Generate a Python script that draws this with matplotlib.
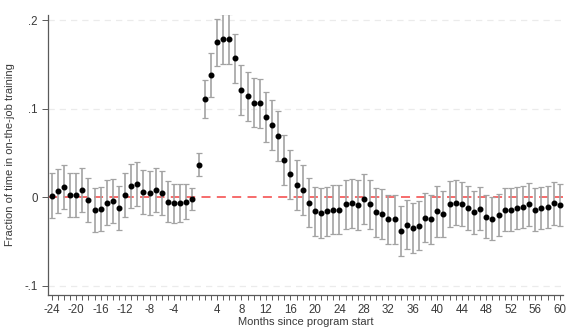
import matplotlib
matplotlib.use("Agg")
import matplotlib.pyplot as plt
import numpy as np

plt.rcParams['font.family'] = ['Liberation Sans', 'DejaVu Sans']

# months relative to program start (month 0 is not in the data)
months = list(range(-24, 0)) + list(range(1, 61))

# point estimates
est = [0.002, 0.007, 0.012, 0.003, 0.003, 0.008, -0.003, -0.014, -0.013, -0.006,
       -0.004, -0.012, 0.003, 0.013, 0.015, 0.006, 0.005, 0.008, 0.005, -0.005,
       -0.007, -0.006, -0.005, -0.002,
       0.037, 0.111, 0.138, 0.175, 0.179, 0.179, 0.157, 0.121, 0.114, 0.107,
       0.106, 0.091, 0.082, 0.069, 0.042, 0.026, 0.014, 0.008, -0.006, -0.016,
       -0.018, -0.016, -0.014, -0.014, -0.008, -0.007, -0.009, -0.002, -0.008, -0.017,
       -0.019, -0.025, -0.025, -0.038, -0.031, -0.035, -0.032, -0.023, -0.025, -0.016,
       -0.019, -0.008, -0.006, -0.008, -0.012, -0.017, -0.013, -0.022, -0.024, -0.020,
       -0.014, -0.014, -0.012, -0.011, -0.008, -0.014, -0.012, -0.011, -0.007, -0.009]

# half width of the 95% confidence interval
ci = [0.025] * 19 + [0.023, 0.022, 0.0215, 0.020, 0.012,
      0.013, 0.021, 0.025, 0.027] + [0.028] * 35 + \
     [0.029, 0.026, 0.026, 0.025, 0.025, 0.025, 0.0245, 0.0245, 0.0245, 0.024,
      0.024, 0.024, 0.024, 0.024, 0.024, 0.024, 0.024, 0.024, 0.024, 0.024, 0.024]

tick_months = [-24, -20, -16, -12, -8, -4, 4, 8, 12, 16, 20, 24, 28, 32, 36, 40,
               44, 48, 52, 56, 60]
y_ticks = [-0.1, 0, 0.1, 0.2]
y_ticklabels = ["-.1", "0", ".1", ".2"]

pos = np.arange(len(months))
axis_col = "#5a5a5a"
text_col = "#3a3a3a"

fig = plt.figure(figsize=(5.67, 3.34), dpi=100)
ax = fig.add_axes([0.0841, 0.118, 0.9097, 0.837])

for yv in [-0.1, 0.1, 0.2]:
    ax.axhline(yv, color="#ebebeb", lw=0.9, ls=(0, (5, 4)), zorder=0)
ax.axhline(0, color="#f66060", lw=1.3, ls=(0, (5, 3.5)), zorder=1)

ax.errorbar(pos, est, yerr=ci, fmt="o", color="black", ms=3.3,
            ecolor="#a3a3a3", elinewidth=1.2, capsize=2.2, capthick=0.9, zorder=3)

ax.set_xlim(-0.65, 83.6)
ax.set_ylim(-0.11, 0.206)

ax.set_xticks([months.index(m) for m in tick_months])
ax.set_xticklabels([str(m) for m in tick_months])
ax.set_xticks(pos, minor=True)
ax.set_yticks(y_ticks)
ax.set_yticklabels(y_ticklabels)

ax.tick_params(axis="x", which="both", length=3.5, width=0.7, color=axis_col,
               labelsize=8.3, labelcolor=text_col, pad=3)
ax.tick_params(axis="y", length=4, width=0.7, color=axis_col,
               labelsize=8.3, labelcolor=text_col, pad=3)

for s in ["top", "right"]:
    ax.spines[s].set_visible(False)
for s in ["left", "bottom"]:
    ax.spines[s].set_color(axis_col)
    ax.spines[s].set_linewidth(0.9)

ax.set_xlabel("Months since program start", fontsize=8, color=text_col, labelpad=1)
ax.set_ylabel("Fraction of time in on-the-job training", fontsize=8,
              color=text_col, labelpad=7)

fig.savefig("out.png", dpi=100)
